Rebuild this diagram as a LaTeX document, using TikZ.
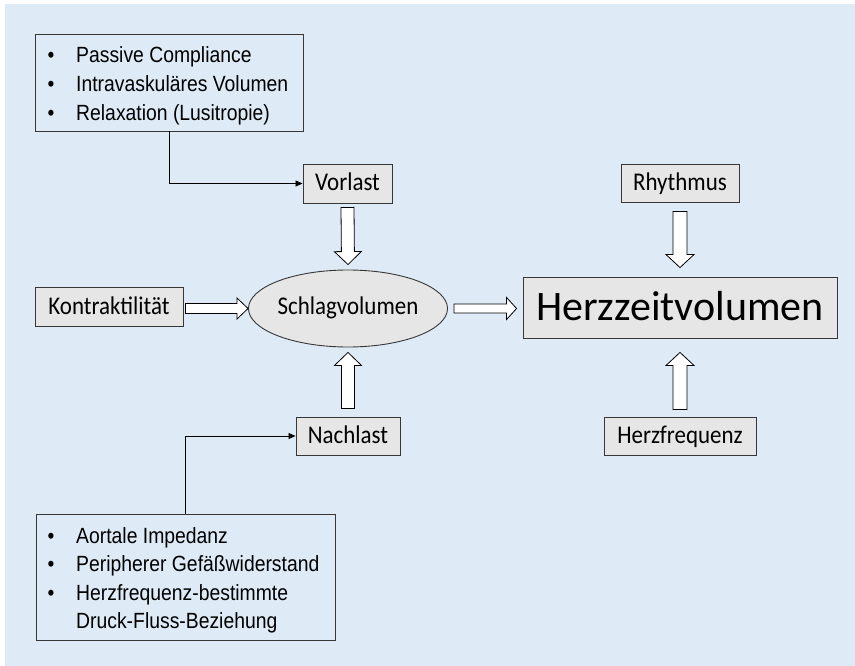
\documentclass[tikz,border=0pt]{standalone}
\usepackage{fontspec}
\usetikzlibrary{calc,arrows.meta,shapes.geometric}
\newfontfamily\calibrif{Carlito}
\newfontfamily\calibrin[FakeStretch=0.9]{Carlito}
\newfontfamily\arialf[FakeStretch=0.88]{Liberation Sans}
\definecolor{bgblue}{RGB}{222,235,247}
\definecolor{boxgray}{RGB}{231,230,230}
\definecolor{edge}{RGB}{55,55,55}
\newcommand\blockarr[5]{%
  \coordinate (ba-h) at ($(#2)!#5!(#1)$);
  \draw[blockarrow] ($(#1)!#3!90:(#2)$) -- ($(ba-h)!#3!90:(#2)$) -- ($(ba-h)!#4!90:(#2)$) -- (#2)
    -- ($(ba-h)!#4!-90:(#2)$) -- ($(ba-h)!#3!-90:(#2)$) -- ($(#1)!#3!-90:(#2)$) -- cycle;}
\begin{document}
\begin{tikzpicture}[x=1pt,y=-1pt,
  calbox/.style={draw=edge, fill=boxgray, line width=0.9pt, inner sep=0pt,
    font={\calibrin\fontsize{25.5}{30}\selectfont}, text height=20pt, text depth=5pt},
  listbox/.style={draw=edge, fill=none, line width=0.9pt, inner sep=0pt},
  listtext/.style={inner sep=0pt, anchor=base west, align=left},
  blockarrow/.style={draw=black, fill=white, line width=0.8pt, line join=miter},
  conn/.style={draw=black, line width=0.8pt, -{Triangle[length=7pt,width=6pt]}}]
\useasboundingbox (0,0) rectangle (855,666);
\fill[bgblue] (5,4) rectangle (855,666);

% list boxes
\node[listbox, minimum width=268pt, minimum height=97pt] (pre) at (169,82.5) {};
\node[listtext, font={\arialf\fontsize{22}{29}\selectfont}] (pretext) at (47.5,62.7) {%
  \begin{tabular}[t]{@{}l@{}}
  \makebox[28.5pt][l]{•}Passive Compliance\\
  \makebox[28.5pt][l]{•}Intravaskuläres Volumen\\
  \makebox[28.5pt][l]{•}Relaxation (Lusitropie)
  \end{tabular}};

\node[listbox, minimum width=299pt, minimum height=126pt] (post) at (185.5,577) {};
\node[listtext, font={\arialf\fontsize{22}{28.5}\selectfont}] (posttext) at (47.5,543) {%
  \begin{tabular}[t]{@{}l@{}}
  \makebox[28.5pt][l]{•}Aortale Impedanz\\
  \makebox[28.5pt][l]{•}Peripherer Gefäßwiderstand\\
  \makebox[28.5pt][l]{•}Herzfrequenz-bestimmte\\
  \makebox[28.5pt][l]{}Druck-Fluss-Beziehung
  \end{tabular}};

% boxes
\node[calbox, minimum width=89pt, minimum height=39pt] (vor) at (347.5,183.5) {Vorlast};
\node[calbox, minimum width=148pt, minimum height=39pt] (kon) at (109,306.5) {Kontraktilität};
\node[calbox, minimum width=104pt, minimum height=38pt] (nach) at (348,436) {Nachlast};
\node[calbox, minimum width=118pt, minimum height=38pt] (rhy) at (680,183) {Rhythmus};
\node[calbox, minimum width=152pt, minimum height=38pt] (hf) at (680,436) {Herzfrequenz};
\node[calbox, ellipse, minimum width=198pt, minimum height=77pt, text height=17pt, text depth=6pt] (sv) at (348,308.5) {Schlagvolumen};
\node[calbox, minimum width=314pt, minimum height=61pt, font={\calibrif\fontsize{42}{50}\selectfont}, text height=34pt, text depth=8pt] (hzv) at (680,307.5) {Herzzeitvolumen};

% connectors
\draw[conn] (pre.south) |- (vor.west);
\draw[conn] (post.north) |- (nach.west);

% block arrows
\coordinate (a1s) at ([yshift=-4pt]vor.south);
\coordinate (a1e) at ([yshift=5pt]sv.north);
\blockarr{a1s}{a1e}{6.5pt}{13.5pt}{13pt}
\coordinate (a2s) at ([yshift=8pt]nach.north);
\coordinate (a2e) at ([yshift=-5pt]sv.south);
\blockarr{a2s}{a2e}{6.5pt}{13.5pt}{13pt}
\coordinate (a3s) at ($(kon.east |- sv.west)+(2pt,0pt)$);
\coordinate (a3e) at (sv.west);
\blockarr{a3s}{a3e}{5pt}{10.5pt}{11pt}
\coordinate (a4s) at ($(sv.east)+(6pt,0pt)$);
\coordinate (a4e) at ($(hzv.west |- sv.east)+(-6pt,0pt)$);
\blockarr{a4s}{a4e}{4.5pt}{11pt}{10pt}
\coordinate (a5s) at ([yshift=-9pt]rhy.south);
\coordinate (a5e) at ([yshift=9pt]hzv.north);
\blockarr{a5s}{a5e}{7pt}{14pt}{13pt}
\coordinate (a6s) at ([yshift=7pt]hf.north);
\coordinate (a6e) at ([yshift=-14pt]hzv.south);
\blockarr{a6s}{a6e}{7pt}{14pt}{13pt}
\end{tikzpicture}
\end{document}
